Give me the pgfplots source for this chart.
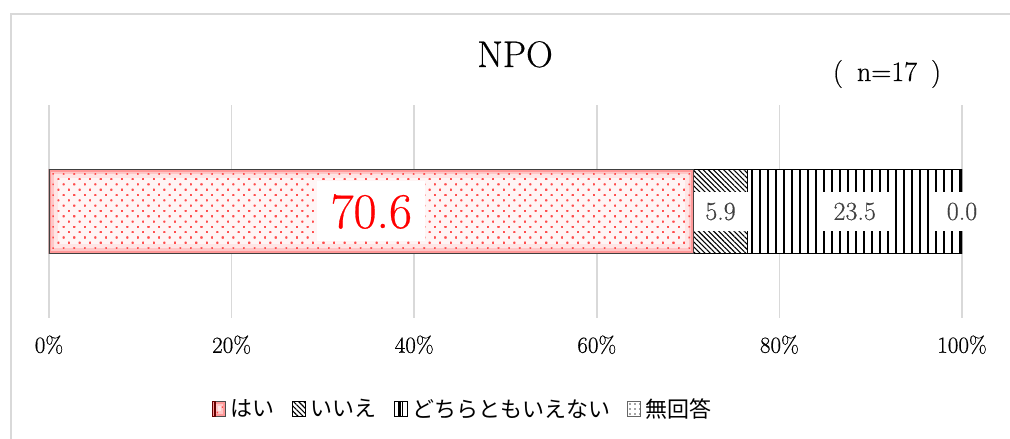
\documentclass[border=0pt]{standalone}
\usepackage{pgfplots}
\pgfplotsset{compat=1.18}
\usepackage{fontspec}
\setmainfont{Latin Modern Roman}[FakeBold=0.5]
\newfontfamily\jp{Noto Sans CJK JP}
\usetikzlibrary{patterns,patterns.meta}
\definecolor{gridgray}{HTML}{D9D9D9}
\definecolor{lblgray}{HTML}{404040}
\definecolor{framegray}{HTML}{D9D9D9}
\definecolor{legred}{HTML}{F25050}
\tikzset{glowline/.style={path picture={}, draw=#1}}
\begin{document}
\begin{tikzpicture}[x=1pt,y=1pt]
\useasboundingbox (0,0) rectangle (1010,439);
\draw[framegray, line width=1.2pt] (11,0) -- (11,425) -- (1010,425);
\node[font=\fontsize{37}{40}\selectfont, anchor=base] at (515,372) {NPO};
\node[font=\fontsize{28}{32}\selectfont, anchor=base] at (887,358) {(\enspace n=17\enspace)};
\begin{axis}[
  at={(49pt,121pt)}, anchor=south west,
  scale only axis, width=913pt, height=213pt,
  xmin=0, xmax=100, ymin=-1, ymax=1,
  xbar stacked, bar width=84pt,
  axis line style={draw=none},
  tick style={draw=none},
  ytick=\empty,
  xtick={0,20,40,60,80,100},
  xticklabels={0\%,20\%,40\%,60\%,80\%,100\%},
  xticklabel style={font=\fontsize{23}{27}\selectfont, text=black, yshift=-14pt},
  xmajorgrids,
  major grid style={gridgray, line width=1.6pt},
  legend columns=4,
  legend style={at={(0.455,-0.427)}, anchor=center, draw=none, fill=none,
    font=\jp\fontsize{22}{26}\selectfont,
    /tikz/every even column/.append style={column sep=12pt},
    /tikz/every odd column/.append style={column sep=0pt},
    nodes={inner xsep=5pt}},
  legend image code/.code={\draw[#1, line width=0.8pt] (0pt,-7.5pt) rectangle (13pt,7.5pt);},
]
\addplot[draw=black!75, line width=1.3pt,
  fill=red!4,
  postaction={pattern={Dots[angle=45, distance=7.5pt, radius=1.1pt]}, pattern color=red!70},
  path picture={
    \draw[glowline=red!10, line width=18pt] (path picture bounding box.south west) rectangle (path picture bounding box.north east);
    \draw[glowline=red!22, line width=10pt] (path picture bounding box.south west) rectangle (path picture bounding box.north east);
    \draw[glowline=red!40, line width=5pt] (path picture bounding box.south west) rectangle (path picture bounding box.north east);
  },
  /pgfplots/legend image code/.code={\draw[path picture={}, fill=legred, draw=black!70, line width=0.8pt] (0pt,-7.5pt) rectangle (13pt,7.5pt);
    \fill[red!40!black, path picture={}] (0pt,-7.5pt) rectangle (2.5pt,7.5pt);}
  ] coordinates {(70.6,0)};
\addlegendentry{はい}
\addplot[draw=black, line width=1.3pt, fill=white,
  postaction={pattern={Lines[angle=-45, distance=3.6pt, line width=1.1pt]}, pattern color=black}]
  coordinates {(5.9,0)};
\addlegendentry{いいえ}
\addplot[draw=black, line width=1.3pt, fill=white,
  postaction={pattern={Lines[angle=90, distance=8pt, line width=1.8pt]}, pattern color=black},
  /pgfplots/legend image code/.code={\draw[draw=black, line width=0.8pt, fill=white] (0pt,-7.5pt) rectangle (13pt,7.5pt);
    \draw[line width=1.2pt] (4.3pt,-7.5pt) -- (4.3pt,7.5pt) (8.7pt,-7.5pt) -- (8.7pt,7.5pt);}]
  coordinates {(23.5,0)};
\addlegendentry{どちらともいえない}
\addplot[draw=black!60, line width=1.3pt, fill=white,
  postaction={pattern={Dots[distance=5pt, radius=0.8pt]}, pattern color=black!70}]
  coordinates {(0.0,0)};
\addlegendentry{無回答}
\coordinate (L1) at (axis cs:35.3,0);
\coordinate (L2) at (axis cs:73.55,0);
\coordinate (L3) at (axis cs:88.25,0);
\coordinate (L4) at (axis cs:100,0);
\end{axis}
\node[fill=white, text=red, font=\fontsize{50}{54}\selectfont, inner sep=0pt, minimum width=108pt, minimum height=60pt] at (L1) {70.6};
\node[fill=white, text=lblgray, font=\fontsize{26}{30}\selectfont, inner sep=0pt, minimum width=54pt, minimum height=39pt] at (L2) {5.9};
\node[fill=white, text=lblgray, font=\fontsize{26}{30}\selectfont, inner sep=0pt, minimum width=70pt, minimum height=39pt] at (L3) {23.5};
\node[fill=white, text=lblgray, font=\fontsize{26}{30}\selectfont, inner sep=0pt, minimum width=58pt, minimum height=39pt] at (L4) {0.0};
\end{tikzpicture}
\end{document}
